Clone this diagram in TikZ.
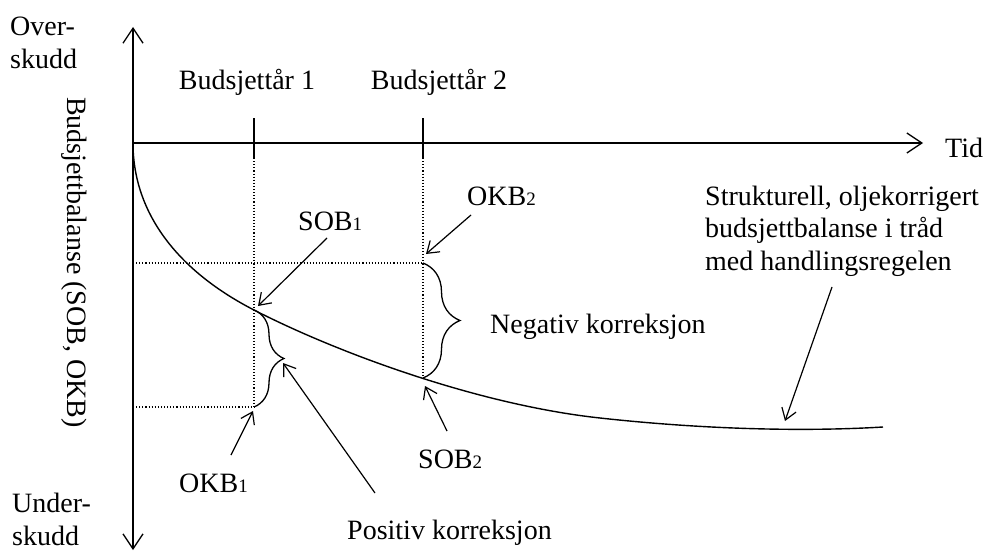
\documentclass[tikz,border=0pt]{standalone}
\usepackage{fontspec}
\setmainfont{Liberation Serif}
\usetikzlibrary{arrows.meta,decorations.pathreplacing}
\newcommand\lowsub[1]{{\fontsize{19}{19}\selectfont #1}}
\begin{document}
\begin{tikzpicture}[x=1pt,y=-1pt,
  every node/.style={inner sep=0pt, font=\fontsize{28}{32.5}\selectfont},
  axis/.style={line width=1.3pt, -{Straight Barb[length=15pt,width=20pt,line width=1.3pt]}},
  ann/.style={line width=1.2pt, -{Straight Barb[length=11pt,width=15pt,line width=1.2pt]}},
  ticks/.style={line width=1.3pt},
  guide/.style={line width=1.1pt, dotted},
  curvestyle/.style={line width=1.4pt},
  bracestyle/.style={line width=1.3pt, decorate, decoration={brace, amplitude=#1}},
]
\useasboundingbox (0,0) rectangle (992,551);
% axes
\coordinate (O) at (133,143);
\coordinate (ytop) at (133,27);
\coordinate (ybot) at (133,550);
\coordinate (xend) at (923,143);
\draw[axis] (O) -- (ytop);
\draw[axis] (O) -- (ybot);
\draw[axis] (O) -- (xend);
% ticks
\coordinate (t1a) at (254,118); \coordinate (t1b) at (254,158);
\coordinate (t2a) at (423,118); \coordinate (t2b) at (423,158);
\draw[ticks] (t1a) -- (t1b);
\draw[ticks] (t2a) -- (t2b);
% guide points
\coordinate (s1) at (254,310);
\coordinate (k1) at (254,407);
\coordinate (k2) at (423,263);
\coordinate (s2) at (423,378);
\coordinate (hk2) at (133,263);
\coordinate (hk1) at (133,407);
\coordinate (cend) at (883,427);
\coordinate (cmid) at (600,418);
\draw[guide] (t1b) -- (k1);
\draw[guide] (t2b) -- (s2);
\draw[guide] (hk2) -- (k2);
\draw[guide] (hk1) -- (k1);
% curve
\draw[curvestyle] (O) .. controls (133,215) and (180,272) .. (s1)
  .. controls (340,354) and (480,405) .. (cmid)
  .. controls (700,429) and (800,432) .. (cend);
% braces
\draw[bracestyle=30] (s1) -- (k1);
\draw[bracestyle=37] (k2) -- (s2);
% labels
\node[anchor=base] (by1) at (247,89) {Budsjettår 1};
\node[anchor=base] (by2) at (439,89) {Budsjettår 2};
\node[anchor=base west] (tid) at (945,157) {Tid};
\node[anchor=base west] (okb2) at (467,205) {OKB\lowsub{2}};
\node[anchor=base west] (sob1) at (298,230) {SOB\lowsub{1}};
\node[anchor=base west] (sob2) at (418,468) {SOB\lowsub{2}};
\node[anchor=base west] (okb1) at (179,492) {OKB\lowsub{1}};
\node[anchor=base west] (neg) at (490,333) {Negativ korreksjon};
\node[anchor=base west] (pos) at (347,539) {Positiv korreksjon};
\node[anchor=base west, align=left] (struk) at (705,270) {Strukturell, oljekorrigert\\budsjettbalanse i tråd\\med handlingsregelen};
\node[anchor=base west, align=left] (over) at (10,68) {Over-\\skudd};
\node[anchor=base west, align=left] (under) at (12,545) {Under-\\skudd};
\node[rotate=-90, anchor=base west] (ylab) at (67,97) {Budsjettbalanse (SOB, OKB)};
% annotation arrows
\coordinate (a1s) at (327,238); \coordinate (a1e) at (258,306);
\coordinate (a2s) at (471,215); \coordinate (a2e) at (426,254);
\coordinate (a3s) at (447,431); \coordinate (a3e) at (425,386);
\coordinate (a4s) at (231,455); \coordinate (a4e) at (253,411);
\coordinate (a5s) at (375,493); \coordinate (a5e) at (283,363);
\coordinate (a6s) at (832,287); \coordinate (a6e) at (785,421);
\draw[ann] (a1s) -- (a1e);
\draw[ann] (a2s) -- (a2e);
\draw[ann] (a3s) -- (a3e);
\draw[ann] (a4s) -- (a4e);
\draw[ann] (a5s) -- (a5e);
\draw[ann] (a6s) -- (a6e);
\end{tikzpicture}
\end{document}
